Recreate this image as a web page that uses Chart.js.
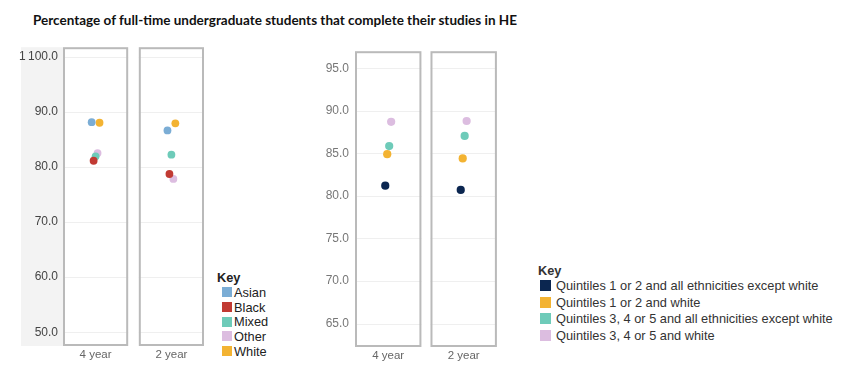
<!DOCTYPE html>
<html>
<head>
<meta charset="utf-8">
<script src="https://cdn.jsdelivr.net/npm/chart.js@4.4.1/dist/chart.umd.min.js"></script>
<style>
  body { margin: 0; background: #fff; width: 863px; height: 382px; position: relative; overflow: hidden; font-family: "Liberation Sans", Arial, sans-serif; }
  #title { position: absolute; left: 33px; top: 13px; font: bold 14px Lato, sans-serif; line-height: 14px; white-space: nowrap; transform-origin: left top; color: #111; }
  canvas { position: absolute; }
  .legend { position: absolute; font-size: 12.8px; color: #222; }
  .legend .key { font-weight: bold; display: flex; align-items: center; }
  .legend .row { display: flex; align-items: center; white-space: nowrap; }
  .legend .sw { flex: none; }
</style>
</head>
<body>
<div id="title">Percentage of full-time undergraduate students that complete their studies in HE</div>
<canvas id="leftChart" width="197" height="333" style="left:11px; top:35px;"></canvas>
<canvas id="rightChart" width="186" height="331" style="left:315px; top:38px;"></canvas>
<div id="leftLegend" class="legend" style="left:217px; top:269px;"></div>
<div id="rightLegend" class="legend" style="left:538px; top:263px;"></div>
<script>
// Categories (panels)
const periods = ['4 year', '2 year'];

// Left chart: by ethnicity
const ethnicityNames = ['Asian', 'Black', 'Mixed', 'Other', 'White'];
const asianValues = [88.1, 86.6];
const blackValues = [81.1, 78.7];
const mixedValues = [81.9, 82.2];
const otherValues = [82.5, 77.8];
const whiteValues = [88.0, 87.9];
const ethnicityColors = ['#7badd5', '#c13a33', '#6ecbb9', '#dcbde0', '#f3b332'];
const leftTicks = [50, 60, 70, 80, 90, 100];
const leftTickLabels = ['50.0', '60.0', '70.0', '80.0', '90.0', '1\u2009100.0'];

// Right chart: by quintile and ethnicity
const quintileNames = [
  'Quintiles 1 or 2 and all ethnicities except white',
  'Quintiles 1 or 2 and white',
  'Quintiles 3, 4 or 5 and all ethnicities except white',
  'Quintiles 3, 4 or 5 and white'
];
const q12NonWhiteValues = [81.2, 80.7];
const q12WhiteValues = [84.9, 84.4];
const q345NonWhiteValues = [85.85, 87.05];
const q345WhiteValues = [88.7, 88.8];
const quintileColors = ['#0b2650', '#f3b332', '#6ecbb9', '#dcbde0'];
const rightTicks = [65, 70, 75, 80, 85, 90, 95];
const rightTickLabels = ['65.0', '70.0', '75.0', '80.0', '85.0', '90.0', '95.0'];

const FONT = '"Liberation Sans", Arial, sans-serif';
const JITTER = 0.026;

// draws the grey axis strip, panel boxes and gridlines inside each panel
const panelPlugin = {
  id: 'panels',
  beforeDraw(chart, args, opts) {
    if (!opts.axisBg) return;
    const { ctx, chartArea } = chart;
    ctx.save();
    ctx.fillStyle = opts.axisBg;
    ctx.fillRect(chartArea.left - opts.bgWidth, chartArea.top, opts.bgWidth, chartArea.bottom - chartArea.top);
    ctx.restore();
  },
  beforeDatasetsDraw(chart, args, opts) {
    const { ctx, chartArea, scales: { x, y } } = chart;
    ctx.save();
    periods.forEach((p, i) => {
      const l = x.getPixelForValue(i - opts.half);
      const r = x.getPixelForValue(i + opts.half);
      ctx.fillStyle = '#fff';
      ctx.fillRect(l, chartArea.top, r - l, chartArea.bottom - chartArea.top);
      ctx.strokeStyle = '#efefef';
      ctx.lineWidth = 1;
      y.ticks.forEach(t => {
        const py = Math.round(y.getPixelForValue(t.value)) + 0.5;
        ctx.beginPath();
        ctx.moveTo(l, py);
        ctx.lineTo(r, py);
        ctx.stroke();
      });
      ctx.strokeStyle = '#bababa';
      ctx.lineWidth = 2;
      ctx.strokeRect(l + 1, chartArea.top + 1, r - l - 2, chartArea.bottom - chartArea.top - 2);
    });
    ctx.restore();
  }
};

function makeDatasets(names, seriesList, colors, radius) {
  const mid = (names.length - 1) / 2;
  return names.map((name, s) => ({
    label: name,
    data: seriesList[s].map((v, i) => ({ x: i + (s - mid) * JITTER, y: v })),
    backgroundColor: colors[s],
    borderWidth: 0,
    pointRadius: radius
  }));
}

function makeChart(id, datasets, cfg) {
  return new Chart(document.getElementById(id), {
    type: 'scatter',
    data: { datasets },
    plugins: [panelPlugin],
    options: {
      responsive: false,
      animation: false,
      devicePixelRatio: 1,
      layout: { padding: { top: 10, right: 3, left: 0, bottom: 0 } },
      plugins: {
        legend: { display: false },
        tooltip: { enabled: false },
        panels: { half: cfg.half, axisBg: cfg.axisBg, bgWidth: 42 }
      },
      scales: {
        x: {
          type: 'linear',
          min: -cfg.half,
          max: periods.length - 1 + cfg.half,
          afterBuildTicks: s => { s.ticks = periods.map((p, i) => ({ value: i })); },
          afterFit: s => { s.height = 22; },
          ticks: { callback: (v, i) => periods[i], font: { family: FONT, size: 11.5 }, color: '#666', padding: 2, maxRotation: 0 },
          grid: { display: false, drawTicks: false },
          border: { display: false }
        },
        y: {
          min: cfg.yMin,
          max: cfg.yMax,
          afterBuildTicks: s => { s.ticks = cfg.ticks.map(v => ({ value: v })); },
          afterFit: s => { s.width = cfg.axisWidth; },
          ticks: { callback: (v, i) => cfg.labels[i], font: { family: FONT, size: 12 }, color: cfg.tickColor, padding: cfg.tickPad },
          grid: { display: false, drawTicks: false },
          border: { display: false }
        }
      }
    }
  });
}

makeChart('leftChart',
  makeDatasets(ethnicityNames, [asianValues, blackValues, mixedValues, otherValues, whiteValues], ethnicityColors, 3.9),
  { half: 0.43, axisBg: '#f3f3f3', yMin: 47.5, yMax: 101.7, ticks: leftTicks, labels: leftTickLabels,
    axisWidth: 52, tickColor: '#444', tickPad: 5 });

makeChart('rightChart',
  makeDatasets(quintileNames, [q12NonWhiteValues, q12WhiteValues, q345NonWhiteValues, q345WhiteValues], quintileColors, 4.1),
  { half: 0.44, axisBg: null, yMin: 62.25, yMax: 97.0, ticks: rightTicks, labels: rightTickLabels,
    axisWidth: 40, tickColor: '#777', tickPad: 6 });

// HTML legends
function buildLegend(id, names, colors, keyH, rowH, sw, gap, color) {
  const box = document.getElementById(id);
  box.style.color = color;
  let html = `<div class="key" style="height:${keyH}px">Key</div>`;
  names.forEach((n, i) => {
    html += `<div class="row" style="height:${rowH}px"><span class="sw" style="width:${sw}px;height:${sw}px;background:${colors[i]};margin:0 ${gap}px 0 ${id === 'leftLegend' ? 5 : 2}px"></span>${n}</div>`;
  });
  box.innerHTML = html;
}
buildLegend('leftLegend', ethnicityNames, ethnicityColors, 16, 14.7, 10, 2, '#222');
buildLegend('rightLegend', quintileNames, quintileColors, 14, 16.8, 11, 5, '#333');

// squeeze title to the reference width
const title = document.getElementById('title');
title.style.transform = `scaleX(${484 / title.getBoundingClientRect().width})`;
</script>
</body>
</html>
